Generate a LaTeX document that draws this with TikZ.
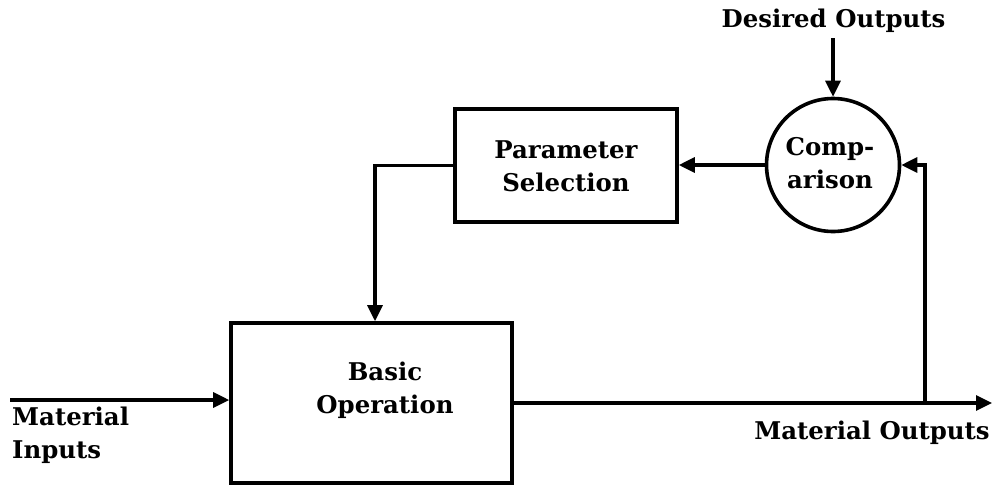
\documentclass[tikz,border=0pt]{standalone}
\usepackage{fontspec}
\setmainfont{DejaVu Serif}
\usetikzlibrary{arrows.meta}
\begin{document}
\begin{tikzpicture}[x=1pt,y=-1pt,
  lbl/.style={font=\bfseries\fontsize{24.4}{33}\selectfont, inner sep=0pt},
  blk/.style={draw, line width=3.6pt},
  conn/.style={line width=3.2pt, -{Triangle[length=16pt,width=15pt]}},
  wire/.style={line width=3.2pt}]
\useasboundingbox (0,0) rectangle (1001,488);

% blocks
\node[blk, minimum width=281pt, minimum height=160pt] (basic) at (371.5,403) {};
\node[lbl, align=center] (basictxt) at (385,390) {Basic\\Operation};
\node[blk, minimum width=222pt, minimum height=113pt] (param) at (566,165.5) {};
\node[lbl, align=center] (paramtxt) at (566,166) {Parameter\\Selection};
\node[blk, circle, minimum size=133pt] (comp) at (833,165) {};
\node[lbl, align=center] (comptxt) at (830,163) {Comp-\\arison};

% labels
\node[lbl] (desired) at (833.5,21) {Desired Outputs};
\node[lbl, align=left, anchor=west] (inputs) at (12,435) {Material\\Inputs};
\node[lbl] (outputs) at (872,433) {Material Outputs};

\coordinate (inStart) at (10,400);
\coordinate (outEnd) at (992,403);
\coordinate (tap) at (925,403);
\coordinate (desTop) at (833,38);

% connectors
\draw[conn] (inStart) -- (basic.west |- inStart);
\draw[conn] (basic.east |- outEnd) -- (outEnd);
\draw[conn] (tap) |- (comp.east);
\draw[conn] (desTop) -- (comp.north);
\draw[conn] (comp.west) -- (param.east |- comp.west);
\draw[conn] (param.west) -| (basic.north -| 375,0);
\end{tikzpicture}
\end{document}
